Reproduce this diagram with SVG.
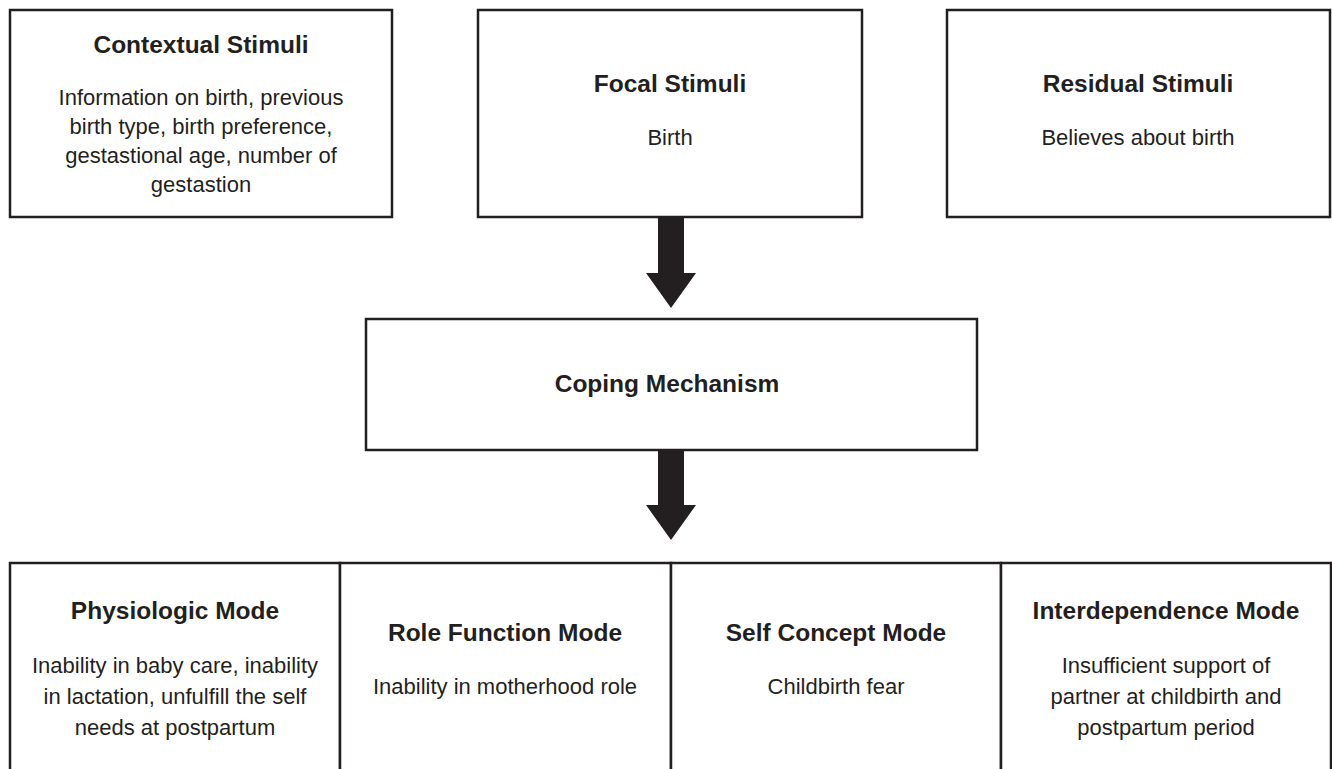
<svg xmlns="http://www.w3.org/2000/svg" width="1332" height="769" viewBox="0 0 1332 769">
  <style>
    .box { fill: #ffffff; stroke: #231f20; stroke-width: 2.5; }
    .title { font-family: "Liberation Sans", Arial, sans-serif; font-weight: bold; font-size: 24.5px; fill: #231f20; text-anchor: middle; }
    .body { font-family: "Liberation Sans", Arial, sans-serif; font-size: 22px; fill: #231f20; text-anchor: middle; }
    .arrow { fill: #231f20; stroke: none; }
  </style>
  <rect x="0" y="0" width="1332" height="769" fill="#ffffff"/>

  <g id="contextual-stimuli">
    <rect class="box" x="10" y="10" width="382" height="207"/>
    <text class="title" x="201" y="53">Contextual Stimuli</text>
    <text class="body" x="201" y="105">Information on birth, previous</text>
    <text class="body" x="201" y="134">birth type, birth preference,</text>
    <text class="body" x="201" y="163">gestastional age, number of</text>
    <text class="body" x="201" y="192">gestastion</text>
  </g>

  <g id="focal-stimuli">
    <rect class="box" x="478" y="10" width="384" height="207"/>
    <text class="title" x="670" y="92">Focal Stimuli</text>
    <text class="body" x="670" y="145">Birth</text>
  </g>

  <g id="residual-stimuli">
    <rect class="box" x="947" y="10" width="383" height="207"/>
    <text class="title" x="1138" y="92">Residual Stimuli</text>
    <text class="body" x="1138" y="145">Believes about birth</text>
  </g>

  <g id="coping-mechanism">
    <rect class="box" x="366" y="319" width="611" height="131"/>
    <text class="title" x="667" y="392">Coping Mechanism</text>
  </g>

  <g id="physiologic-mode">
    <rect class="box" x="10" y="563" width="330" height="230"/>
    <text class="title" x="175" y="619">Physiologic Mode</text>
    <text class="body" x="175" y="673">Inability in baby care, inability</text>
    <text class="body" x="175" y="704">in lactation, unfulfill the self</text>
    <text class="body" x="175" y="735">needs at postpartum</text>
  </g>

  <g id="role-function-mode">
    <rect class="box" x="340" y="563" width="331" height="230"/>
    <text class="title" x="505" y="641">Role Function Mode</text>
    <text class="body" x="505" y="694">Inability in motherhood role</text>
  </g>

  <g id="self-concept-mode">
    <rect class="box" x="671" y="563" width="330" height="230"/>
    <text class="title" x="836" y="641">Self Concept Mode</text>
    <text class="body" x="836" y="694">Childbirth fear</text>
  </g>

  <g id="interdependence-mode">
    <rect class="box" x="1001" y="563" width="330" height="230"/>
    <text class="title" x="1166" y="619">Interdependence Mode</text>
    <text class="body" x="1166" y="673">Insufficient support of</text>
    <text class="body" x="1166" y="704">partner at childbirth and</text>
    <text class="body" x="1166" y="735">postpartum period</text>
  </g>

  <g id="connectors">
    <polygon class="arrow" points="658,217 684,217 684,273 696,273 671,308 646,273 658,273"/>
    <polygon class="arrow" points="658,450 684,450 684,505 696,505 671,540 646,505 658,505"/>
  </g>
</svg>
